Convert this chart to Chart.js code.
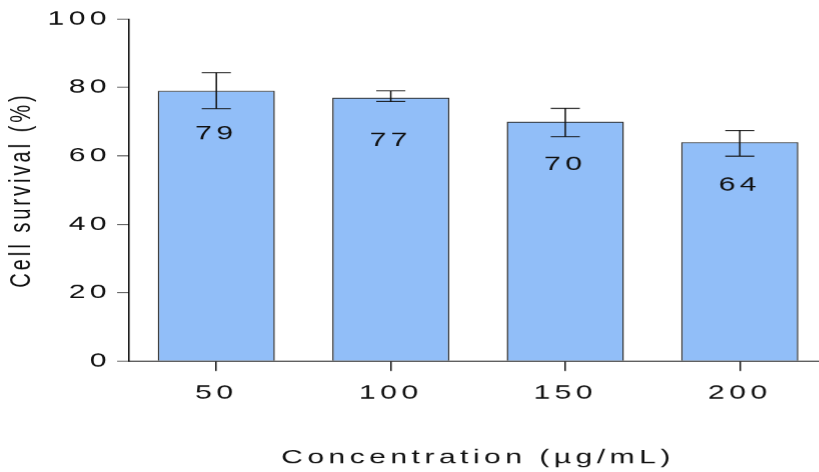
<!DOCTYPE html>
<html>
<head>
<meta charset="utf-8">
<script src="https://cdn.jsdelivr.net/npm/chart.js@4"></script>
<style>
  html, body { margin: 0; padding: 0; background: #fff; overflow: hidden; width: 819px; height: 472px; }
  /* the figure uses wide, horizontally stretched lettering */
  #wrap { position: absolute; left: 0; top: 0; width: 551px; height: 472px; transform: scaleX(1.5); transform-origin: 0 0; }
</style>
</head>
<body>
<div id="wrap"><canvas id="c" width="551" height="472"></canvas></div>
<script>
// Concentration groups (µg/mL)
const concentrations = ['50', '100', '150', '200'];
// Mean cell survival (%)
const survival = [79, 77, 70, 64];
// Error bar ends (%)
const errUpper = [84.3, 79.0, 73.9, 67.4];
const errLower = [73.8, 75.9, 65.6, 59.9];
// Y axis ticks
const yTicks = [0, 20, 40, 60, 80, 100];

const FONT = 'Liberation Sans, Arial, sans-serif';
const TRACK = '3px';
const INK = '#111';

const tracking = {
  id: 'tracking',
  beforeUpdate(chart) { chart.ctx.letterSpacing = TRACK; },
  beforeDraw(chart) { chart.ctx.letterSpacing = TRACK; }
};

const errorBars = {
  id: 'errorBars',
  afterDatasetsDraw(chart) {
    const { ctx } = chart;
    const y = chart.scales.y;
    const meta = chart.getDatasetMeta(0);
    const hw = 9.7;
    ctx.save();
    ctx.strokeStyle = INK;
    ctx.lineWidth = 1;
    meta.data.forEach((bar, i) => {
      const x = bar.x;
      const yh = y.getPixelForValue(errUpper[i]);
      const yl = y.getPixelForValue(errLower[i]);
      ctx.beginPath();
      ctx.moveTo(x, yh); ctx.lineTo(x, yl);
      ctx.moveTo(x - hw, yh); ctx.lineTo(x + hw, yh);
      ctx.moveTo(x - hw, yl); ctx.lineTo(x + hw, yl);
      ctx.stroke();
    });
    ctx.restore();
  }
};

const valueLabels = {
  id: 'valueLabels',
  afterDatasetsDraw(chart) {
    const { ctx } = chart;
    const meta = chart.getDatasetMeta(0);
    ctx.save();
    ctx.letterSpacing = TRACK;
    ctx.font = '20px ' + FONT;
    ctx.fillStyle = INK;
    ctx.textAlign = 'center';
    ctx.textBaseline = 'middle';
    meta.data.forEach((bar, i) => {
      ctx.fillText(String(survival[i]), bar.x, bar.y + 43);
    });
    ctx.restore();
  }
};

new Chart(document.getElementById('c'), {
  type: 'bar',
  data: {
    labels: concentrations,
    datasets: [{
      data: survival,
      backgroundColor: '#91bef8',
      borderColor: '#2a2a2a',
      borderWidth: 1,
      borderSkipped: 'bottom',
      barPercentage: 0.671,
      categoryPercentage: 1.0
    }]
  },
  options: {
    responsive: false,
    devicePixelRatio: 1.5,
    animation: false,
    layout: { padding: { top: 19, left: 0, right: 0, bottom: 0 } },
    plugins: {
      legend: { display: false },
      tooltip: { enabled: false }
    },
    scales: {
      x: {
        offset: true,
        grid: { display: true, drawOnChartArea: false, offset: false, drawTicks: true, tickLength: 10, color: INK },
        border: { display: true, color: '#000', width: 1 },
        ticks: { color: INK, padding: 10, font: { family: FONT, size: 20 } },
        title: {
          display: true,
          text: 'Concentration (µg/mL)',
          color: INK,
          font: { family: FONT, size: 20 },
          padding: { top: 0, bottom: 2.5 }
        },
        afterFit(scale) { scale.height = 111; }
      },
      y: {
        min: yTicks[0],
        max: yTicks[yTicks.length - 1],
        grid: { display: true, drawOnChartArea: false, drawTicks: true, tickLength: 8, color: '#555' },
        border: { display: true, color: '#000', width: 1 },
        ticks: {
          stepSize: yTicks[1] - yTicks[0],
          color: INK,
          padding: 4,
          font: { family: FONT, size: 20 }
        },
        title: {
          display: true,
          text: 'Cell survival (%)',
          color: INK,
          font: { family: FONT, size: 20 },
          padding: { top: 2.7, bottom: 0 }
        },
        afterFit(scale) { scale.width = 86; }
      }
    }
  },
  plugins: [tracking, errorBars, valueLabels]
});
</script>
</body>
</html>
